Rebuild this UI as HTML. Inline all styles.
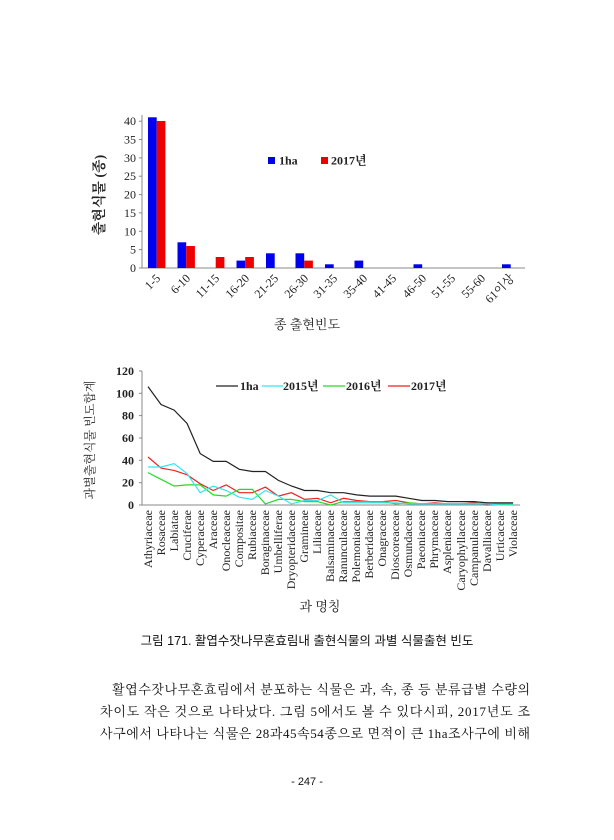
<!DOCTYPE html>
<html><head><meta charset="utf-8"><style>
html,body{margin:0;padding:0;background:#fff;}
svg{display:block;}
.s{font-family:"Liberation Serif","Noto Serif CJK SC",serif;}
.k{font-family:"Liberation Sans","Noto Sans CJK KR",sans-serif;}
.b{font-family:"Liberation Serif","Noto Serif CJK SC",serif;}
</style></head><body>
<svg width="614" height="840" viewBox="0 0 614 840" xmlns="http://www.w3.org/2000/svg">
<rect width="614" height="840" fill="#fff"/>
<!-- Chart 1 -->
<g class="s" font-size="12" fill="#222">
<line x1="142" y1="115" x2="142" y2="268" stroke="#888"/>
<line x1="142" y1="268" x2="525" y2="268" stroke="#888"/>
<g text-anchor="end">
<text x="136" y="272">0</text><text x="136" y="253.6">5</text><text x="136" y="235.3">10</text><text x="136" y="216.9">15</text><text x="136" y="198.6">20</text><text x="136" y="180.2">25</text><text x="136" y="161.9">30</text><text x="136" y="143.5">35</text><text x="136" y="125.2">40</text>
</g>
<g stroke="#888"><line x1="139" y1="268" x2="142" y2="268"/><line x1="139" y1="249.6" x2="142" y2="249.6"/><line x1="139" y1="231.3" x2="142" y2="231.3"/><line x1="139" y1="212.9" x2="142" y2="212.9"/><line x1="139" y1="194.6" x2="142" y2="194.6"/><line x1="139" y1="176.2" x2="142" y2="176.2"/><line x1="139" y1="157.9" x2="142" y2="157.9"/><line x1="139" y1="139.5" x2="142" y2="139.5"/><line x1="139" y1="121.2" x2="142" y2="121.2"/></g>
<g fill="#0000ee">
<rect x="148" y="117.3" width="8.7" height="150.7"/><rect x="177.5" y="242.3" width="8.7" height="25.7"/><rect x="236.5" y="260.6" width="8.7" height="7.4"/><rect x="266" y="253.3" width="8.7" height="14.7"/><rect x="295.5" y="253.3" width="8.7" height="14.7"/><rect x="325" y="264.3" width="8.7" height="3.7"/><rect x="354.5" y="260.6" width="8.7" height="7.4"/><rect x="413.5" y="264.3" width="8.7" height="3.7"/><rect x="502" y="264.3" width="8.7" height="3.7"/>
</g>
<g fill="#ee0000">
<rect x="156.7" y="121" width="8.7" height="147"/><rect x="186.2" y="246" width="8.7" height="22"/><rect x="215.7" y="257" width="8.7" height="11"/><rect x="245.2" y="257" width="8.7" height="11"/><rect x="304.2" y="260.6" width="8.7" height="7.4"/>
</g>
<rect x="268" y="157" width="7" height="7" fill="#0000ee"/><text x="279" y="164.5" font-weight="bold" font-size="12">1ha</text>
<rect x="321" y="157" width="7" height="7" fill="#ee0000"/><text x="331" y="164.5" font-weight="bold" font-size="12">2017년</text>
<g text-anchor="end">
<text transform="translate(161,279) rotate(-45)">1-5</text>
<text transform="translate(191,279) rotate(-45)">6-10</text>
<text transform="translate(220,279) rotate(-45)">11-15</text>
<text transform="translate(250,279) rotate(-45)">16-20</text>
<text transform="translate(279,279) rotate(-45)">21-25</text>
<text transform="translate(309,279) rotate(-45)">26-30</text>
<text transform="translate(338,279) rotate(-45)">31-35</text>
<text transform="translate(368,279) rotate(-45)">35-40</text>
<text transform="translate(397,279) rotate(-45)">41-45</text>
<text transform="translate(427,279) rotate(-45)">46-50</text>
<text transform="translate(456,279) rotate(-45)">51-55</text>
<text transform="translate(486,279) rotate(-45)">55-60</text>
<text transform="translate(515,279) rotate(-45)">61이상</text>
</g>
<text x="307" y="329" text-anchor="middle" font-size="13">종 출현빈도</text>
<text transform="translate(104,195) rotate(-90)" text-anchor="middle" font-size="14" font-weight="bold">출현식물 (종)</text>
</g>
<!-- Chart 2 -->
<g class="s" font-size="12" fill="#222">
<line x1="142" y1="371" x2="142" y2="505" stroke="#888"/>
<line x1="142" y1="505" x2="520" y2="505" stroke="#888"/>
<g text-anchor="end" font-weight="bold">
<text x="134" y="509">0</text><text x="134" y="486.7">20</text><text x="134" y="464.3">40</text><text x="134" y="442">60</text><text x="134" y="419.6">80</text><text x="134" y="397.3">100</text><text x="134" y="375">120</text>
</g>
<g stroke="#888"><line x1="139" y1="505" x2="142" y2="505"/><line x1="139" y1="482.7" x2="142" y2="482.7"/><line x1="139" y1="460.3" x2="142" y2="460.3"/><line x1="139" y1="438" x2="142" y2="438"/><line x1="139" y1="415.6" x2="142" y2="415.6"/><line x1="139" y1="393.3" x2="142" y2="393.3"/><line x1="139" y1="371" x2="142" y2="371"/></g>
<g fill="none" stroke-width="1.2">
<polyline stroke="#ee2222" points="148,457 161,468.1 174.1,470.4 187.1,474.8 200.2,483.8 213.2,490.5 226.2,484.9 239.3,492.7 252.3,492.7 265.4,487.1 278.4,496.1 291.4,492.7 304.5,499.4 317.5,498.3 330.6,502.8 343.6,498.3 356.6,500.5 369.7,501.6 382.7,501.6 395.8,500.5 408.8,502.8 421.8,503.9 434.9,502.8 447.9,503.9 461,503.9 474,502.8 487,505 500.1,503.9 513.1,503.9"/>
<polyline stroke="#22dd22" points="148,472.6 161,479.3 174.1,486 187.1,484.9 200.2,484.9 213.2,494.9 226.2,496.1 239.3,489.4 252.3,489.4 265.4,503.9 278.4,499.4 291.4,499.4 304.5,501.6 317.5,501.6 330.6,505 343.6,501.6 356.6,501.6 369.7,501.6 382.7,501.6 395.8,503.9 408.8,502.8 421.8,503.9 434.9,503.9 447.9,503.9 461,503.9 474,503.9 487,502.8 500.1,503.9 513.1,503.9"/>
<polyline stroke="#33e6f0" points="148,467 161,467 174.1,463.7 187.1,473.7 200.2,492.7 213.2,486 226.2,490.5 239.3,497.2 252.3,499.4 265.4,490.5 278.4,496.1 291.4,503.9 304.5,500.5 317.5,500.5 330.6,494.9 343.6,502.8 356.6,502.8 369.7,502.8 382.7,502.8 395.8,502.8 408.8,503.9 421.8,503.9 434.9,503.9 447.9,503.9 461,503.9 474,503.9 487,503.9 500.1,505 513.1,505"/>
<polyline stroke="#222" points="148,386.6 161,404.5 174.1,410.1 187.1,423.5 200.2,453.6 213.2,461.4 226.2,461.4 239.3,469.3 252.3,471.5 265.4,471.5 278.4,480.4 291.4,486 304.5,490.5 317.5,490.5 330.6,492.7 343.6,492.7 356.6,494.9 369.7,496.1 382.7,496.1 395.8,496.1 408.8,498.3 421.8,500.5 434.9,500.5 447.9,501.6 461,501.6 474,501.6 487,502.8 500.1,502.8 513.1,502.8"/>
</g>
<g font-weight="bold">
<line x1="216" y1="386" x2="238" y2="386" stroke="#222" stroke-width="1.2"/><text x="240" y="390">1ha</text>
<line x1="262" y1="386" x2="283" y2="386" stroke="#33e6f0" stroke-width="1.2"/><text x="283" y="390">2015년</text>
<line x1="323" y1="386" x2="345" y2="386" stroke="#22dd22" stroke-width="1.2"/><text x="346" y="390">2016년</text>
<line x1="388" y1="386" x2="410" y2="386" stroke="#ee2222" stroke-width="1.2"/><text x="411" y="390">2017년</text>
</g>
<g text-anchor="end" font-size="12">
<text transform="translate(152,510) rotate(-90)">Athyriaceae</text>
<text transform="translate(165,510) rotate(-90)">Rosaceae</text>
<text transform="translate(178,510) rotate(-90)">Labiatae</text>
<text transform="translate(191,510) rotate(-90)">Cruciferae</text>
<text transform="translate(204,510) rotate(-90)">Cyperaceae</text>
<text transform="translate(217,510) rotate(-90)">Araceae</text>
<text transform="translate(230,510) rotate(-90)">Onocleaceae</text>
<text transform="translate(243,510) rotate(-90)">Compositae</text>
<text transform="translate(256,510) rotate(-90)">Rubiaceae</text>
<text transform="translate(269,510) rotate(-90)">Boraginaceae</text>
<text transform="translate(282,510) rotate(-90)">Umbelliferae</text>
<text transform="translate(295,510) rotate(-90)">Dryopteridaceae</text>
<text transform="translate(308,510) rotate(-90)">Gramineae</text>
<text transform="translate(321,510) rotate(-90)">Liliaceae</text>
<text transform="translate(334,510) rotate(-90)">Balsaminaceae</text>
<text transform="translate(347,510) rotate(-90)">Ranunculaceae</text>
<text transform="translate(360,510) rotate(-90)">Polemoniaceae</text>
<text transform="translate(373,510) rotate(-90)">Berberidaceae</text>
<text transform="translate(386,510) rotate(-90)">Onagraceae</text>
<text transform="translate(399,510) rotate(-90)">Dioscoreaceae</text>
<text transform="translate(412,510) rotate(-90)">Osmundaceae</text>
<text transform="translate(425,510) rotate(-90)">Paeoniaceae</text>
<text transform="translate(438,510) rotate(-90)">Phrymaceae</text>
<text transform="translate(451,510) rotate(-90)">Aspleniaceae</text>
<text transform="translate(465,510) rotate(-90)">Caryophyllaceae</text>
<text transform="translate(478,510) rotate(-90)">Campanulaceae</text>
<text transform="translate(491,510) rotate(-90)">Davalliaceae</text>
<text transform="translate(504,510) rotate(-90)">Urticaceae</text>
<text transform="translate(517,510) rotate(-90)">Violaceae</text>
</g>
<text x="320" y="611" text-anchor="middle" font-size="13">과 명칭</text>
<text transform="translate(94,440) rotate(-90)" text-anchor="middle" font-size="12">과별출현식물 빈도합계</text>
</g>
<!-- Text -->
<g class="k" fill="#111">
<text x="307" y="645" text-anchor="middle" font-size="12.5">그림 171. 활엽수잣나무혼효림내 출현식물의 과별 식물출현 빈도</text>
</g>
<g class="b" fill="#111" font-size="13">
<text x="112" y="694" textLength="418" lengthAdjust="spacing">활엽수잣나무혼효림에서 분포하는 식물은 과, 속, 종 등 분류급별 수량의</text>
<text x="100" y="716" textLength="430" lengthAdjust="spacing">차이도 작은 것으로 나타났다. 그림 5에서도 볼 수 있다시피, 2017년도 조</text>
<text x="100" y="738" textLength="430" lengthAdjust="spacing">사구에서 나타나는 식물은 28과45속54종으로 면적이 큰 1ha조사구에 비해</text>
</g>
<text class="k" x="307" y="785" text-anchor="middle" font-size="11" fill="#111">- 247 -</text>
</svg>
</body></html>
